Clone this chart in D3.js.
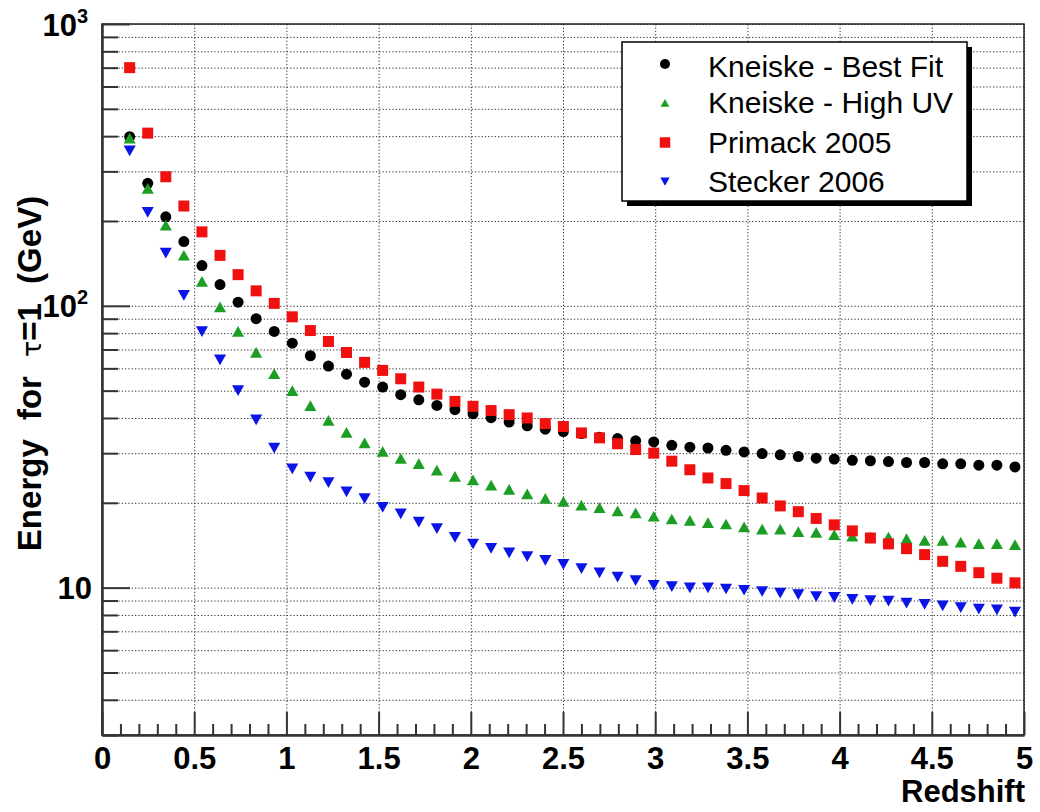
<!DOCTYPE html>
<html>
<head>
<meta charset="utf-8">
<script src="https://cdn.jsdelivr.net/npm/d3@7"></script>
<style>
  html, body { margin: 0; padding: 0; background: #fff; }
  svg { display: block; font-family: "Liberation Sans", Arial, Helvetica, sans-serif; }
</style>
</head>
<body>
<svg id="chart" width="1040" height="812"></svg>
<script>
// Redshift of each computed point
const redshift = [
  0.150, 0.248, 0.346, 0.444, 0.542, 0.640, 0.738, 0.836, 0.934, 1.032,
  1.130, 1.228, 1.326, 1.424, 1.522, 1.620, 1.718, 1.816, 1.914, 2.012,
  2.110, 2.208, 2.306, 2.404, 2.502, 2.600, 2.698, 2.796, 2.894, 2.992,
  3.090, 3.188, 3.286, 3.384, 3.482, 3.580, 3.678, 3.776, 3.873, 3.971,
  4.069, 4.167, 4.265, 4.363, 4.461, 4.559, 4.657, 4.755, 4.853, 4.951
];

// Energy (GeV) at which the optical depth reaches 1, per EBL model
const kneiskeBestFit = [
  398, 272, 207, 169, 139, 119, 103, 90.0, 81.1, 73.7,
  66.5, 61.1, 57.2, 53.6, 51.5, 48.4, 46.4, 44.3, 42.8, 41.4,
  40.1, 38.7, 37.5, 36.5, 35.8, 35.2, 34.2, 33.8, 33.2, 32.9,
  32.0, 31.5, 31.3, 30.7, 30.3, 29.9, 29.6, 29.2, 28.8, 28.6,
  28.3, 28.2, 28.0, 27.8, 27.8, 27.5, 27.5, 27.2, 27.2, 26.8
];
const kneiskeHighUV = [
  393, 261, 193, 151, 122, 99.0, 81.1, 68.3, 57.4, 50.0,
  44.2, 39.2, 35.5, 32.6, 30.4, 28.7, 27.5, 26.1, 24.8, 24.1,
  23.1, 22.3, 21.5, 20.7, 20.2, 19.6, 19.2, 18.7, 18.4, 17.9,
  17.5, 17.3, 17.0, 16.8, 16.4, 16.1, 16.1, 15.8, 15.7, 15.4,
  15.2, 15.1, 15.1, 14.9, 14.7, 14.7, 14.5, 14.3, 14.3, 14.2
];
const primack2005 = [
  700, 410, 287, 226, 183, 151, 129, 113, 102, 91.4,
  81.7, 74.7, 68.3, 63.0, 59.0, 55.1, 51.5, 48.6, 45.8, 44.0,
  42.5, 41.1, 40.0, 38.2, 37.3, 35.4, 34.0, 32.4, 30.9, 30.0,
  28.1, 26.2, 24.5, 23.4, 22.1, 20.8, 19.5, 18.6, 17.6, 16.7,
  15.9, 15.0, 14.3, 13.75, 13.1, 12.4, 11.9, 11.3, 10.8, 10.4
];
const stecker2006 = [
  355, 215, 154, 109, 81.1, 64.4, 50.1, 39.4, 31.3, 26.4,
  24.7, 23.6, 21.9, 20.7, 19.3, 18.3, 17.1, 16.2, 15.1, 14.3,
  13.8, 13.3, 12.9, 12.5, 12.1, 11.7, 11.3, 10.9, 10.6, 10.2,
  10.1, 10.0, 10.0, 9.9, 9.8, 9.7, 9.57, 9.45, 9.3, 9.24,
  9.1, 9.0, 8.96, 8.82, 8.73, 8.63, 8.5, 8.4, 8.35, 8.2
];

const seriesNames = ["Kneiske - Best Fit", "Kneiske - High UV", "Primack 2005", "Stecker 2006"];
const seriesValues = [kneiskeBestFit, kneiskeHighUV, primack2005, stecker2006];
const seriesColors = ["#000000", "#1c9e24", "#f01010", "#0a14e6"];
const seriesMarkers = ["circle", "triangleUp", "square", "triangleDown"];

const xMajorTicks = [0, 0.5, 1, 1.5, 2, 2.5, 3, 3.5, 4, 4.5, 5];
const xTickLabels = ["0", "0.5", "1", "1.5", "2", "2.5", "3", "3.5", "4", "4.5", "5"];
const yMajorTicks = [10, 100, 1000];
const yTickLabels = [["10", ""], ["10", "2"], ["10", "3"]];

const xTitle = "Redshift";
const yTitleParts = ["Energy for ", "\u03C4", "=1 (GeV)"];

// ---- frame geometry ----
const frame = { left: 102, right: 1024, top: 24, bottom: 735 };
const svg = d3.select("#chart");

const x = d3.scaleLinear().domain([0, 5]).range([frame.left, frame.right]);
const y = d3.scaleLog().domain([3, 1000]).range([frame.bottom, frame.top]);

// every 1..9 x 10^n tick inside the y range
const yAllTicks = [];
for (let dec = 1; dec <= 1000; dec *= 10) {
  for (let m = 1; m <= 9; m++) {
    const v = m * dec;
    if (v >= 3 && v <= 1000) yAllTicks.push(v);
  }
}
const yMinorTicks = yAllTicks.filter(v => !yMajorTicks.includes(v));
const xMinorTicks = d3.range(0, 51).map(i => i / 10).filter(v => Math.abs(v * 2 - Math.round(v * 2)) > 1e-6);

const W = frame.right - frame.left;
const H = frame.bottom - frame.top;

// ---- dotted grid ----
const gridStyle = g => {
  g.select(".domain").remove();
  g.selectAll(".tick line")
    .attr("stroke", "#333")
    .attr("stroke-width", 1)
    .attr("stroke-dasharray", "1.3,2");
};
svg.append("g")
  .attr("transform", `translate(${frame.left},0)`)
  .call(d3.axisLeft(y).tickValues(yAllTicks).tickSize(-W).tickFormat(""))
  .call(gridStyle);
svg.append("g")
  .attr("transform", `translate(0,${frame.bottom})`)
  .call(d3.axisBottom(x).tickValues(xMajorTicks.slice(1)).tickSize(-H).tickFormat(""))
  .call(gridStyle);

// ---- frame ----
svg.append("rect")
  .attr("x", frame.left).attr("y", frame.top)
  .attr("width", W).attr("height", H)
  .attr("fill", "none").attr("stroke", "#222").attr("stroke-width", 1.5);

const axisColor = "#333";
const axisStyle = g => {
  g.select(".domain").attr("stroke", axisColor).attr("stroke-width", 2);
  g.selectAll(".tick line").attr("stroke", axisColor).attr("stroke-width", 2);
};

// ---- y axis: minor then major ticks with labels ----
svg.append("g")
  .attr("transform", `translate(${frame.left},0)`)
  .call(d3.axisLeft(y).tickValues(yMinorTicks).tickSize(-16).tickSizeOuter(0).tickFormat(""))
  .call(axisStyle);

const yAxisMajor = svg.append("g")
  .attr("transform", `translate(${frame.left},0)`)
  .call(d3.axisLeft(y).tickValues(yMajorTicks).tickSize(-28).tickSizeOuter(0).tickPadding(10).tickFormat(""))
  .call(axisStyle);

yAxisMajor.selectAll(".tick").each(function (d, i) {
  const lbl = yTickLabels[i];
  const t = d3.select(this).select("text")
    .attr("x", lbl[1] ? -14 : -10)
    .attr("dy", "0.36em")
    .attr("text-anchor", "end")
    .attr("fill", "#000")
    .attr("font-size", 31)
    .attr("font-weight", "bold");
  t.text(null);
  t.append("tspan").text(lbl[0]);
  if (lbl[1]) {
    t.append("tspan").attr("font-size", 20).attr("dy", -13).text(lbl[1]);
  }
});

// ---- x axis: minor then major ticks with labels ----
svg.append("g")
  .attr("transform", `translate(0,${frame.bottom})`)
  .call(d3.axisBottom(x).tickValues(xMinorTicks).tickSize(-11).tickSizeOuter(0).tickFormat(""))
  .call(axisStyle);

svg.append("g")
  .attr("transform", `translate(0,${frame.bottom})`)
  .call(d3.axisBottom(x).tickValues(xMajorTicks).tickSize(-23).tickSizeOuter(0).tickPadding(12)
    .tickFormat((d, i) => xTickLabels[i]))
  .call(axisStyle)
  .call(g => g.selectAll("text")
    .attr("fill", "#000")
    .attr("font-size", 31)
    .attr("font-weight", "bold")
    .attr("font-family", "'Liberation Sans', Arial, sans-serif"));

// ---- axis titles ----
svg.append("text")
  .attr("x", frame.right + 1).attr("y", 802)
  .attr("text-anchor", "end")
  .attr("font-size", 31).attr("font-weight", "bold")
  .text(xTitle);

const yTitle = svg.append("text")
  .attr("transform", `translate(41,${(frame.top + frame.bottom) / 2 - 6}) rotate(-90)`)
  .attr("text-anchor", "middle")
  .attr("font-size", 33).attr("font-weight", "bold")
  .attr("word-spacing", 10);
yTitle.append("tspan").text(yTitleParts[0]);
yTitle.append("tspan").attr("font-weight", "normal").attr("font-size", 27).attr("font-family", "'DejaVu Sans', sans-serif").text(yTitleParts[1]);
yTitle.append("tspan").text(yTitleParts[2]);

// ---- marker shapes ----
function markerPath(kind, s) {
  const h = s / 2;
  switch (kind) {
    case "square":
      return `M${-h},${-h}H${h}V${h}H${-h}Z`;
    case "triangleUp":
      return `M0,${-h}L${h * 1.1},${h * 0.95}L${-h * 1.1},${h * 0.95}Z`;
    case "triangleDown":
      return `M0,${h}L${h * 1.1},${-h * 0.95}L${-h * 1.1},${-h * 0.95}Z`;
    default: {
      const r = h;
      return `M${r},0A${r},${r} 0 1,1 ${-r},0A${r},${r} 0 1,1 ${r},0Z`;
    }
  }
}
const markerSize = { circle: 11, square: 11, triangleUp: 11, triangleDown: 11 };

// ---- data markers ----
const plot = svg.append("g");
seriesValues.forEach((vals, si) => {
  plot.append("g")
    .selectAll("path")
    .data(vals.map((v, i) => ({ z: redshift[i], e: v })))
    .join("path")
    .attr("transform", d => `translate(${x(d.z)},${y(d.e)})`)
    .attr("d", markerPath(seriesMarkers[si], markerSize[seriesMarkers[si]]))
    .attr("fill", seriesColors[si]);
});

// ---- legend ----
const leg = { x: 622, y: 42, w: 345, h: 159 };
svg.append("rect")
  .attr("x", leg.x + 5).attr("y", leg.y + 5)
  .attr("width", leg.w).attr("height", leg.h)
  .attr("fill", "#000");
svg.append("rect")
  .attr("x", leg.x).attr("y", leg.y)
  .attr("width", leg.w).attr("height", leg.h)
  .attr("fill", "#fff").attr("stroke", "#000").attr("stroke-width", 1.5);

const legMarkerY = [64, 103, 142.5, 181.5];
const legTextY = [77, 113, 153, 192];
const legMarkerSize = { circle: 10, square: 10.5, triangleUp: 8, triangleDown: 8.5 };
const legendRows = svg.append("g").selectAll("g")
  .data(seriesNames)
  .join("g");
legendRows.append("path")
  .attr("transform", (d, i) => `translate(665,${legMarkerY[i]})`)
  .attr("d", (d, i) => markerPath(seriesMarkers[i], legMarkerSize[seriesMarkers[i]]))
  .attr("fill", (d, i) => seriesColors[i]);
legendRows.append("text")
  .attr("x", 708)
  .attr("y", (d, i) => legTextY[i])
  .attr("font-size", 30)
  .attr("fill", "#000")
  .text(d => d);
</script>
</body>
</html>
